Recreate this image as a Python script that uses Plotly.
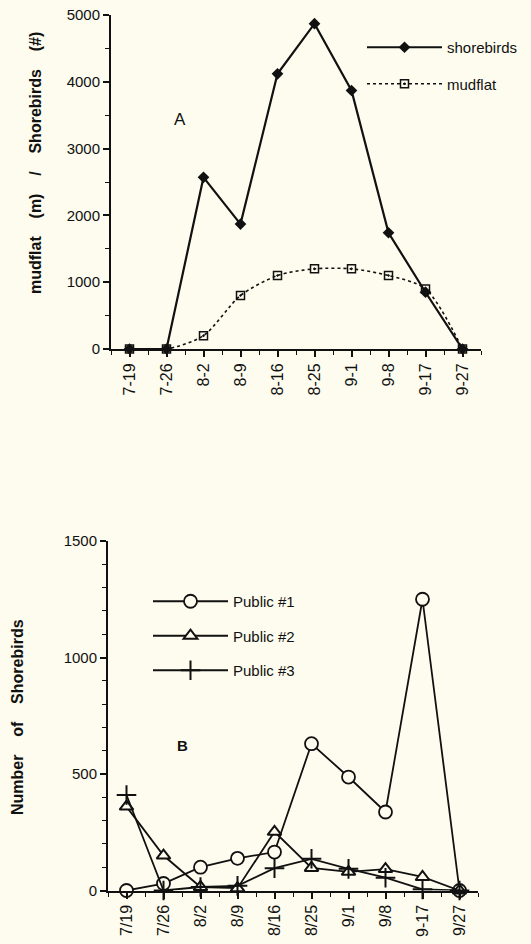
import plotly.graph_objects as go

# ---- data ----
dates_a = ["7-19", "7-26", "8-2", "8-9", "8-16", "8-25", "9-1", "9-8", "9-17", "9-27"]
shorebirds = [0, 0, 2570, 1870, 4120, 4870, 3870, 1740, 850, 0]
mudflat = [0, 0, 200, 800, 1100, 1200, 1200, 1100, 900, 0]

dates_b = ["7/19", "7/26", "8/2", "8/9", "8/16", "8/25", "9/1", "9/8", "9-17", "9/27"]
public1 = [0, 30, 100, 138, 165, 630, 487, 337, 1250, 0]
public2 = [360, 150, 15, 10, 252, 97, 80, 92, 58, 0]
public3 = [410, 0, 15, 20, 96, 136, 93, 55, 5, 0]

BG = "#fdfcee"
INK = "#111111"
FONT = "Liberation Sans, Arial, Helvetica, sans-serif"

xa = list(range(len(dates_a)))
xb = list(range(len(dates_b)))

fig = go.Figure()

# Panel A
fig.add_trace(go.Scatter(
    x=xa, y=mudflat, name="mudflat", mode="lines+markers",
    line=dict(color=INK, width=1.6, dash="3px,3px", shape="spline", smoothing=0.8),
    marker=dict(symbol="square-open-dot", size=8, color=INK, line=dict(width=1.5)),
    cliponaxis=False, xaxis="x", yaxis="y", legend="legend", legendrank=2,
    legendgroup="m"))
fig.add_trace(go.Scatter(
    x=xa, y=shorebirds, name="shorebirds", mode="lines+markers",
    line=dict(color=INK, width=2.2),
    marker=dict(symbol="diamond", size=9, color=INK),
    cliponaxis=False, xaxis="x", yaxis="y", legend="legend", legendrank=1,
    legendgroup="s"))

# Panel B
fig.add_trace(go.Scatter(
    x=xb, y=public1, name="Public #1", mode="lines+markers",
    line=dict(color=INK, width=1.8),
    marker=dict(symbol="circle", size=13, color=BG, line=dict(color=INK, width=1.8)),
    cliponaxis=False, xaxis="x2", yaxis="y2", legend="legend2", legendgroup="p1"))
fig.add_trace(go.Scatter(
    x=xb, y=public2, name="Public #2", mode="lines+markers",
    line=dict(color=INK, width=1.8),
    marker=dict(symbol="triangle-up", size=12, color=BG, line=dict(color=INK, width=2)),
    cliponaxis=False, xaxis="x2", yaxis="y2", legend="legend2", legendgroup="p2"))
fig.add_trace(go.Scatter(
    x=xb, y=public3, name="Public #3", mode="lines+markers",
    line=dict(color=INK, width=1.8),
    marker=dict(symbol="cross-thin", size=14, color=INK, line=dict(color=INK, width=2)),
    cliponaxis=False, xaxis="x2", yaxis="y2", legend="legend2", legendgroup="p3"))

W, H = 531, 944
def px(v): return v / W
def py(v): return (H - v) / H

xaxis_common = dict(
    range=[-0.5, 9.5], tickmode="array", showline=True, linecolor=INK, linewidth=2,
    ticks="outside", ticklen=6, tickwidth=1.5, tickcolor=INK, tickangle=-90,
    showgrid=False, zeroline=False, automargin=False,
    minor=dict(tickmode="linear", tick0=-0.5, dtick=1, ticks="outside", ticklen=4,
               tickwidth=1.2, tickcolor=INK, showgrid=False),
    tickfont=dict(family=FONT, size=16, color=INK),
)
yaxis_common = dict(
    showline=True, linecolor=INK, linewidth=2, ticks="outside", ticklen=6,
    tickwidth=1.5, tickcolor=INK, showgrid=False, zeroline=False, automargin=False,
    tickfont=dict(family=FONT, size=15, color=INK),
)

fig.update_layout(
    width=W, height=H, paper_bgcolor=BG, plot_bgcolor=BG,
    margin=dict(l=0, r=0, t=0, b=0, pad=0, autoexpand=False),
    showlegend=True,
    xaxis=dict(domain=[px(111), px(481)], anchor="y",
               tickvals=xa, ticktext=dates_a, **xaxis_common),
    yaxis=dict(domain=[py(349), py(15)], anchor="x", range=[0, 5000],
               tickvals=[0, 1000, 2000, 3000, 4000, 5000],
               minor=dict(dtick=500, ticks="outside", ticklen=4, tickwidth=1.2,
                          tickcolor=INK, showgrid=False),
               **yaxis_common),
    xaxis2=dict(domain=[px(108), px(478)], anchor="y2",
                tickvals=xb, ticktext=dates_b, **xaxis_common),
    yaxis2=dict(domain=[py(890.5), py(541)], anchor="x2", range=[0, 1500],
                tickvals=[0, 500, 1000, 1500],
                minor=dict(dtick=100, ticks="outside", ticklen=4, tickwidth=1.2,
                           tickcolor=INK, showgrid=False),
                **yaxis_common),
    legend=dict(x=px(362), y=py(31), xanchor="left", yanchor="top",
                bgcolor="rgba(0,0,0,0)", font=dict(family=FONT, size=15, color=INK),
                tracegroupgap=14, itemwidth=75, traceorder="grouped"),
    legend2=dict(x=px(148), y=py(585), xanchor="left", yanchor="top",
                 bgcolor="rgba(0,0,0,0)", font=dict(family=FONT, size=15, color=INK),
                 tracegroupgap=12, itemwidth=75, traceorder="grouped"),
    annotations=[
        dict(text="mudflat    (m)    /    Shorebirds    (#)", x=px(35), y=py(163),
             xref="paper", yref="paper", showarrow=False, textangle=-90,
             xanchor="center", yanchor="middle",
             font=dict(family=FONT, size=16, color=INK, weight="bold")),
        dict(text="A", x=px(180), y=py(119), xref="paper", yref="paper",
             showarrow=False, xanchor="center", yanchor="middle",
             font=dict(family=FONT, size=17, color=INK)),
        dict(text="Number    of    Shorebirds", x=px(17), y=py(717),
             xref="paper", yref="paper", showarrow=False, textangle=-90,
             xanchor="center", yanchor="middle",
             font=dict(family=FONT, size=16, color=INK, weight="bold")),
        dict(text="B", x=px(182), y=py(745), xref="paper", yref="paper",
             showarrow=False, xanchor="center", yanchor="middle",
             font=dict(family=FONT, size=15, color=INK, weight="bold")),
    ],
)

post = (
    "document.documentElement.style.margin='0';"
    "document.documentElement.style.padding='0';"
    "document.documentElement.style.overflow='hidden';"
    "document.body.style.margin='0';"
    "document.body.style.padding='0';"
    "document.body.style.overflow='hidden';"
    "document.body.style.background='" + BG + "';"
)

fig.write_html("out.html", config={"responsive": False, "displayModeBar": False},
               post_script=post)
